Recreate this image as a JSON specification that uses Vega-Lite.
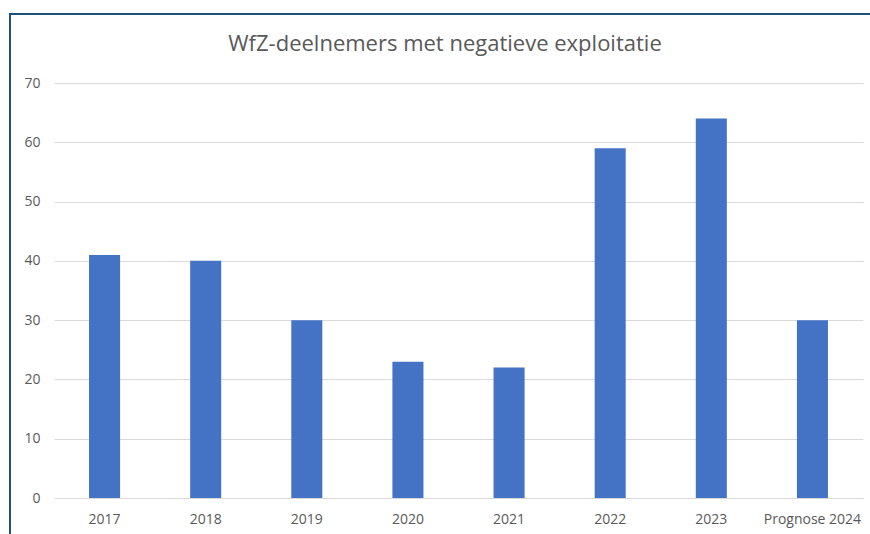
{
  "$schema": "https://vega.github.io/schema/vega-lite/v6.json",
  "autosize": {"type": "none"},
  "padding": {"left": 10, "top": 14, "right": 0, "bottom": 0},
  "width": 880,
  "height": 540,
  "background": "white",
  "title": {
    "text": "WfZ-deelnemers met negatieve exploitatie",
    "anchor": "middle",
    "orient": "top",
    "baseline": "alphabetic",
    "offset": -59,
    "dx": -5,
    "font": "Open Sans",
    "fontSize": 22,
    "fontWeight": "normal",
    "color": "#595959"
  },
  "data": {
    "values": [
      {"jaar": "2017", "aantal": 41},
      {"jaar": "2018", "aantal": 40},
      {"jaar": "2019", "aantal": 30},
      {"jaar": "2020", "aantal": 23},
      {"jaar": "2021", "aantal": 22},
      {"jaar": "2022", "aantal": 59},
      {"jaar": "2023", "aantal": 64},
      {"jaar": "Prognose 2024", "aantal": 30}
    ]
  },
  "mark": {"type": "bar", "color": "#4472C4"},
  "encoding": {
    "x": {
      "field": "jaar",
      "type": "nominal",
      "sort": null,
      "title": null,
      "scale": {"range": [44, 853], "paddingInner": 0.693, "paddingOuter": 0.3465},
      "axis": {
        "offset": -56,
        "labelAngle": 0,
        "ticks": false,
        "domain": false,
        "grid": false,
        "labelPadding": 14,
        "labelFont": "Open Sans",
        "labelFontSize": 14,
        "labelColor": "#595959"
      }
    },
    "y": {
      "field": "aantal",
      "type": "quantitative",
      "title": null,
      "scale": {"domain": [0, 70], "range": [484, 69], "nice": false},
      "axis": {
        "values": [0, 10, 20, 30, 40, 50, 60, 70],
        "offset": -38,
        "labelPadding": 8,
        "ticks": false,
        "domain": false,
        "grid": true,
        "gridColor": "#d9d9d9",
        "gridWidth": 1,
        "labelFont": "Open Sans",
        "labelFontSize": 14,
        "labelColor": "#595959"
      }
    }
  },
  "config": {
    "view": {"stroke": "#1f4e79", "strokeWidth": 2}
  }
}
